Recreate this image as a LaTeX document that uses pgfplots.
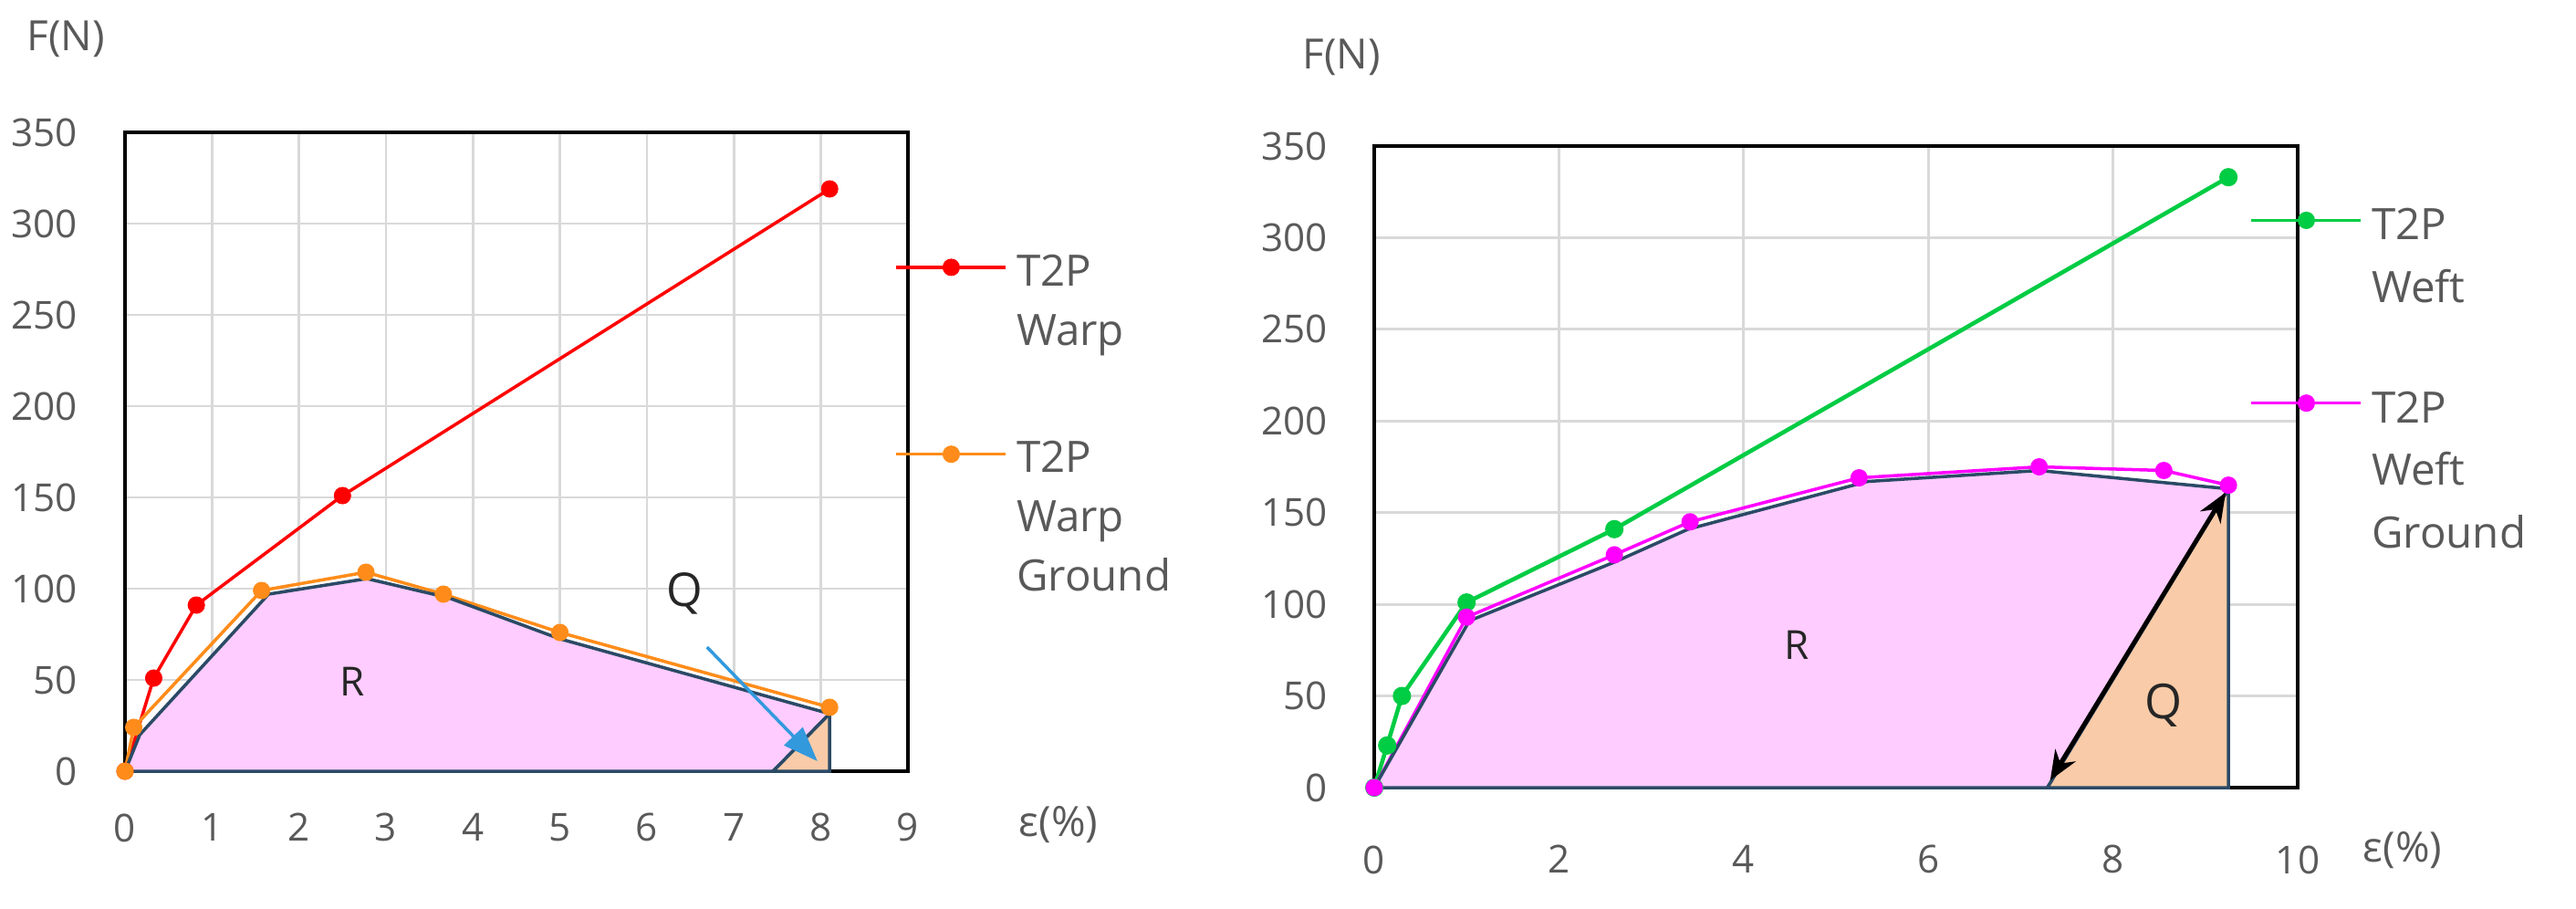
\documentclass[border=0pt]{standalone}
\usepackage{fontspec}
\setmainfont{Open Sans}
\usepackage{pgfplots}
\pgfplotsset{compat=1.18}
\usetikzlibrary{arrows.meta}
\definecolor{txt}{HTML}{595959}
\definecolor{gridc}{HTML}{D9D9D9}
\definecolor{warp}{HTML}{FF0000}
\definecolor{warpg}{HTML}{FF8C1A}
\definecolor{weft}{HTML}{00CC44}
\definecolor{weftg}{HTML}{FF00FF}
\definecolor{rfill}{HTML}{FFCCFF}
\definecolor{qfill}{HTML}{F9CBA8}
\definecolor{edge}{HTML}{2B4A66}
\definecolor{qarrow}{HTML}{3399DD}

\pgfplotsset{
  panel/.style={scale only axis, clip=false,
    axis line style={black,line width=1pt},
    grid=major, major grid style={gridc,line width=0.8pt},
    major tick length=0pt,
    ymin=0, ymax=350, ytick={0,50,...,350},
    tick label style={font=\fontsize{12}{14}\selectfont, text=txt},
    /pgf/number format/assume math mode=true,
    legend style={draw=none, fill=none, inner sep=0pt, column sep=0.1cm,
      text=txt, nodes={inner sep=0pt}, cells={anchor=west}},
    legend image code/.code={\draw[mark repeat=2,mark phase=2,line width=1pt]
      plot coordinates {(0cm,0cm) (0.6cm,0cm) (1.2cm,0cm)};}},
  ser/.style={#1, line width=1pt, mark=*, mark size=2.2pt, mark options={fill=#1,draw=#1}},
  poly/.style={draw=edge, line width=1pt, fill=#1, forget plot}
}

\begin{document}
\begin{tikzpicture}
\useasboundingbox (0,0) rectangle (28.23cm,9.95cm);

% ---- left: warp
\begin{axis}[panel, at={(1.37cm,1.50cm)}, anchor=south west,
  width=8.58cm, height=7.0cm, xmin=0, xmax=9, xtick={0,1,...,9},
  xticklabel style={yshift=-0.34cm}, yticklabel style={xshift=-0.40cm},
  legend style={at={(rel axis cs:1,0.826)}, anchor=north west, xshift=-0.15cm, row sep=1.54cm,
    font=\fontsize{13.5}{18.5}\selectfont}]
\addplot[ser=warp] coordinates {(0,0) (0.33,51) (0.82,91) (2.5,151) (8.1,319)};
\addlegendentry{\begin{tabular}[t]{@{}l@{}}T2P\\Warp\end{tabular}}
\addplot[ser=warpg] coordinates {(0,0) (0.1,24) (1.57,99) (2.77,109) (3.66,97) (5.0,76) (8.1,35)};
\addlegendentry{\begin{tabular}[t]{@{}l@{}}T2P\\Warp\\Ground\end{tabular}}
\addplot[poly=rfill] coordinates {(0,0) (0.17,20) (1.65,97) (2.78,105.5) (3.72,95) (5.0,72.5) (8.1,31.5) (7.45,0)} -- cycle;
\addplot[poly=qfill] coordinates {(7.45,0) (8.1,31.5) (8.1,0)} -- cycle;
\addplot[qarrow, line width=1pt, -{Triangle[length=0.38cm,width=0.28cm]}, forget plot] coordinates {(6.69,68) (7.96,5.5)};
\node[font=\fontsize{12.5}{14}\selectfont, text=black!85] at (axis cs:2.61,49) {R};
\node[font=\fontsize{14.5}{16}\selectfont, text=black!85] at (axis cs:6.43,97.5) {Q};
\end{axis}

% ---- right: weft
\begin{axis}[panel, at={(15.06cm,1.32cm)}, anchor=south west,
  width=10.12cm, height=7.03cm, xmin=0, xmax=10, xtick={0,2,...,10},
  xticklabel style={yshift=-0.51cm}, yticklabel style={xshift=-0.39cm},
  legend style={at={(rel axis cs:1,0.923)}, anchor=north west, xshift=-0.53cm, row sep=1.47cm,
    font=\fontsize{13.5}{19.5}\selectfont}]
\addplot[ser=weft, line width=1.3pt] coordinates {(0,0) (0.14,23) (0.3,50) (1.0,101) (2.6,141) (9.25,333)};
\addlegendentry{\begin{tabular}[t]{@{}l@{}}T2P\\Weft\end{tabular}}
\addplot[ser=weftg] coordinates {(0,0) (1.0,93) (2.6,127) (3.42,145) (5.25,169) (7.2,175) (8.55,173) (9.25,165)};
\addlegendentry{\begin{tabular}[t]{@{}l@{}}T2P\\Weft\\Ground\end{tabular}}
\addplot[poly=rfill] coordinates {(0,0) (1.03,91) (2.6,123) (3.4,141) (5.34,167) (7.2,173) (9.25,163) (7.29,0)} -- cycle;
\addplot[poly=qfill] coordinates {(7.29,0) (9.25,163) (9.25,0)} -- cycle;
\addplot[black, line width=1.4pt, {Stealth[length=0.32cm,width=0.26cm]}-{Stealth[length=0.32cm,width=0.26cm]}, forget plot] coordinates {(7.32,4) (9.22,161)};
\node[font=\fontsize{12.5}{14}\selectfont, text=black!85] at (axis cs:4.58,78) {R};
\node[font=\fontsize{15}{17}\selectfont, text=black!85] at (axis cs:8.55,45) {Q};
\end{axis}

\node[font=\fontsize{13}{15}\selectfont, text=txt] at (0.72cm,9.52cm) {F(N)};
\node[font=\fontsize{13}{15}\selectfont, text=txt] at (14.70cm,9.32cm) {F(N)};
\node[font=\fontsize{13}{15}\selectfont, text=txt] at (11.60cm,0.91cm) {ε(\%)};
\node[font=\fontsize{13}{15}\selectfont, text=txt] at (26.33cm,0.63cm) {ε(\%)};
\end{tikzpicture}
\end{document}
